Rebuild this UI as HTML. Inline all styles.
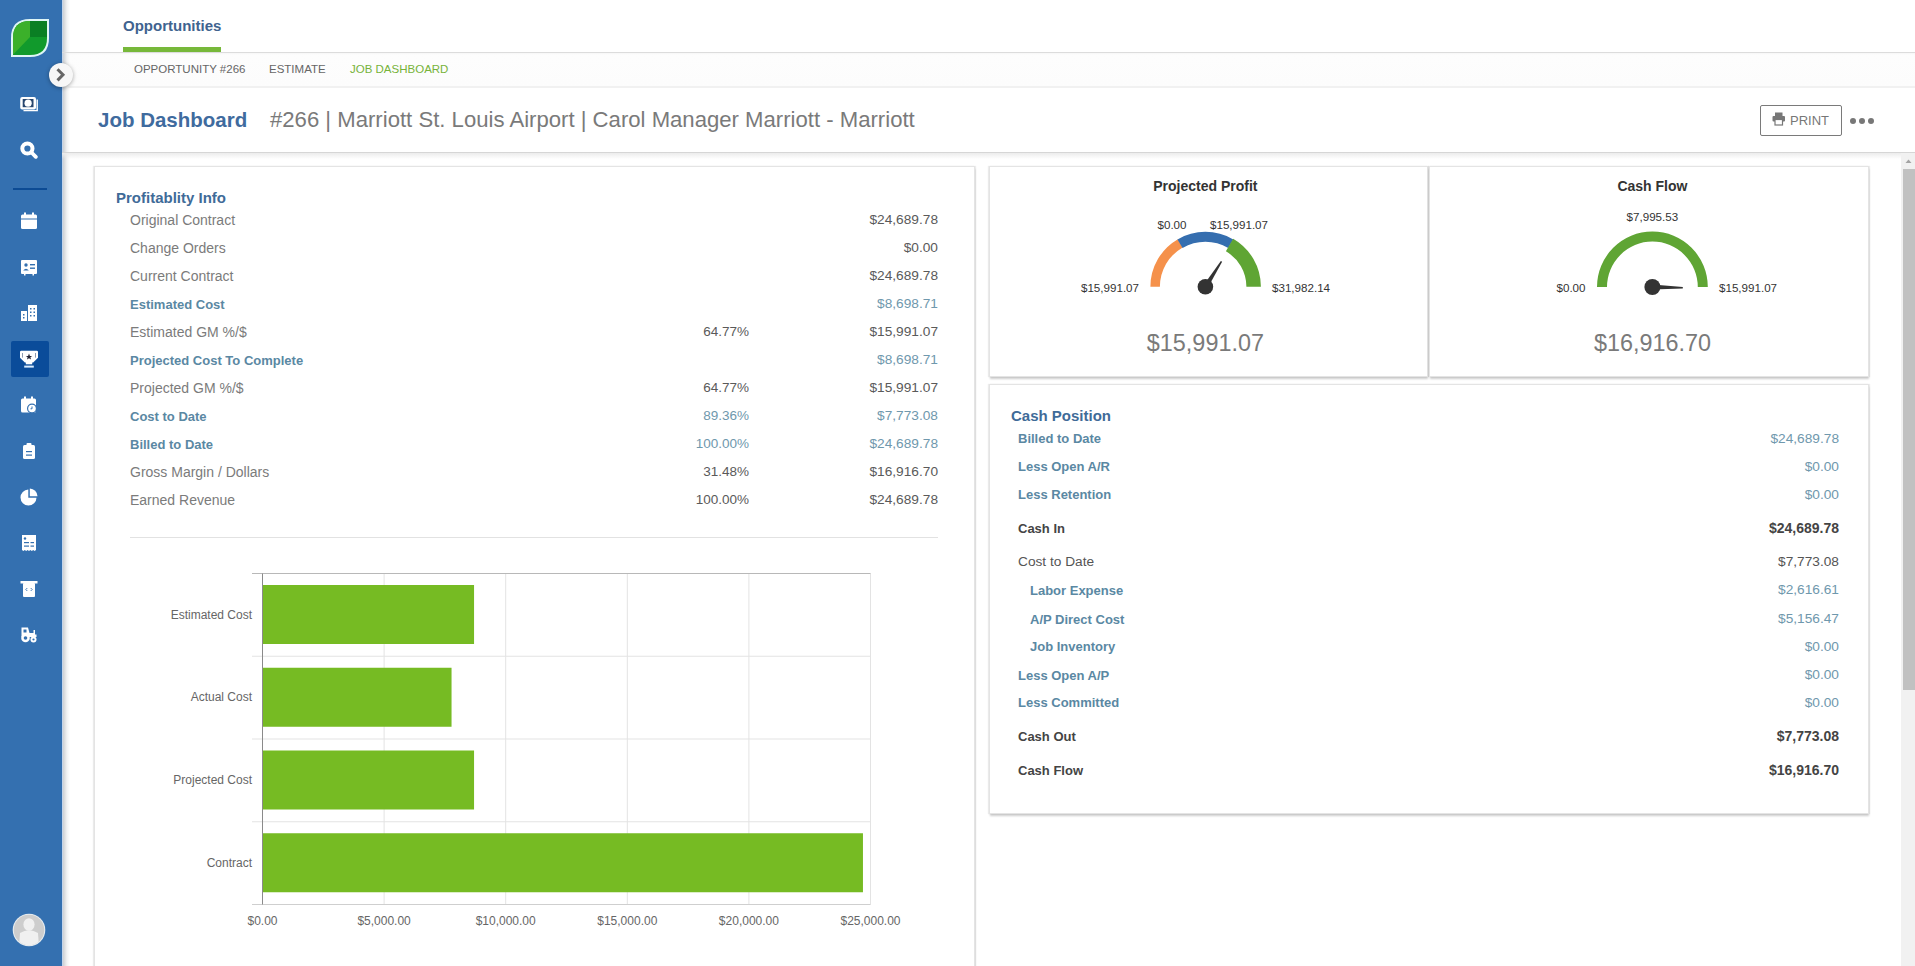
<!DOCTYPE html><html><head><meta charset="utf-8"><style>
html,body{margin:0;padding:0;width:1915px;height:966px;overflow:hidden;background:#fff;position:relative;font-family:"Liberation Sans",sans-serif;}
.t{position:absolute;line-height:1;white-space:pre;}
.a{position:absolute;}
</style></head><body>
<div class="a" style="left:62px;top:53px;width:1853px;height:33px;background:linear-gradient(#f6f6f6 0,#fdfdfd 2px,#fcfcfc 100%);"></div>
<div class="a" style="left:62px;top:86px;width:1853px;height:2px;background:#f1f1f1;"></div>
<div class="a" style="left:0;top:0;width:62px;height:966px;background:#3470b0;"></div>
<div class="a" style="left:62px;top:0;width:8px;height:966px;background:linear-gradient(to right,#c3d4ea 0,#c3d4ea 1px,#cdd0d3 1px,#dfe1e3 3px,#f2f3f3 5px,rgba(255,255,255,0) 8px);"></div>
<svg class="a" style="left:10px;top:18px" width="40" height="40" viewBox="0 0 40 40">
<path d="M39 1 L39 20 Q39 39 20 39 L1 39 L1 20 Q1 1 20 1 Z" fill="#dff6f6"/>
<clipPath id="lf"><path d="M37 3 L37 20 Q37 37 20 37 L3 37 L3 20 Q3 3 20 3 Z"/></clipPath>
<g clip-path="url(#lf)">
<rect x="0" y="0" width="40" height="40" fill="#119a2c"/>
<path d="M0 0 L20 0 L20 19 L0 40 Z" fill="#3bb02a"/>
<rect x="20" y="0" width="20" height="19" fill="#0a7f24"/>
</g></svg>
<div class="a" style="left:49px;top:63px;width:24px;height:24px;border-radius:50%;background:#f7f7f7;box-shadow:0 1px 4px rgba(0,0,0,.35);"></div>
<svg class="a" style="left:49px;top:63px" width="24" height="24" viewBox="0 0 24 24"><path d="M8.5 6.2 L14 11.8 L8.5 17.4" fill="none" stroke="#666" stroke-width="3" stroke-linecap="butt" stroke-linejoin="miter"/></svg>
<svg class="a" style="left:19.0px;top:94.0px" width="20" height="20" viewBox="0 0 20 20"><rect x="1.2" y="3" width="15.8" height="12.4" rx="2" fill="#fff"/>
<rect x="3.7" y="5" width="10.8" height="8.2" fill="#27466e"/>
<circle cx="9.1" cy="9.2" r="3.6" fill="#fff"/>
<path d="M18.2 5.5 V16.6 H4.5" fill="none" stroke="#fff" stroke-width="1.4"/></svg>
<svg class="a" style="left:18.0px;top:139.0px" width="20" height="20" viewBox="0 0 20 20"><circle cx="9.4" cy="9.5" r="5.1" fill="none" stroke="#fff" stroke-width="4"/>
<path d="M13.5 13.5 L17.8 17.8" stroke="#fff" stroke-width="3.8" stroke-linecap="round"/></svg>
<div class="a" style="left:13px;top:188px;width:34px;height:2px;background:#0c4b94;"></div>
<svg class="a" style="left:19.0px;top:211.0px" width="20" height="20" viewBox="0 0 20 20"><rect x="2" y="3.5" width="16" height="14.5" rx="1.5" fill="#fff"/>
<rect x="2" y="7.5" width="16" height="1" fill="#3470b0"/>
<rect x="5" y="1.5" width="2" height="3" fill="#fff"/><rect x="13" y="1.5" width="2" height="3" fill="#fff"/></svg>
<svg class="a" style="left:19.0px;top:257.0px" width="20" height="20" viewBox="0 0 20 20"><rect x="2" y="3" width="16" height="14" rx="1" fill="#fff"/>
<circle cx="7" cy="8" r="1.7" fill="#3470b0"/><path d="M4.2 13.5 Q7 9.8 9.8 13.5 Z" fill="#3470b0"/>
<rect x="11" y="7" width="5" height="1.4" fill="#3470b0"/><rect x="11" y="10.5" width="5" height="1.4" fill="#3470b0"/>
<rect x="5" y="17" width="1.5" height="1.5" fill="#fff"/><rect x="13.5" y="17" width="1.5" height="1.5" fill="#fff"/></svg>
<svg class="a" style="left:19.0px;top:303.0px" width="20" height="20" viewBox="0 0 20 20"><rect x="9" y="2" width="9" height="16" fill="#fff"/><rect x="2" y="8" width="6" height="10" fill="#fff"/>
<g fill="#3470b0"><rect x="11" y="5" width="1.5" height="1.5"/><rect x="14.5" y="5" width="1.5" height="1.5"/>
<rect x="11" y="8.5" width="1.5" height="1.5"/><rect x="14.5" y="8.5" width="1.5" height="1.5"/>
<rect x="11" y="12" width="1.5" height="1.5"/><rect x="14.5" y="12" width="1.5" height="1.5"/>
<rect x="4" y="11" width="1.5" height="1.5"/><rect x="4" y="14" width="1.5" height="1.5"/></g></svg>
<div class="a" style="left:11px;top:341px;width:38px;height:36px;border-radius:2px;background:#0a4c9a;"></div>
<svg class="a" style="left:19.0px;top:349.0px" width="20" height="20" viewBox="0 0 20 20"><path d="M1 3 Q1 1.8 2.2 1.8 H17.8 Q19 1.8 19 3 V8.8 L14.2 13.6 H5.8 L1 8.8 Z" fill="#fff"/>
<rect x="6.8" y="13" width="6.4" height="2.3" fill="#fff"/><rect x="5.2" y="16.6" width="9.6" height="2" fill="#d8ecff"/>
<rect x="3" y="4" width="0.9" height="4.6" fill="#8090a8"/><rect x="16.1" y="4" width="0.9" height="4.6" fill="#8090a8"/>
<path d="M10 4.6 L10.9 6.9 L13.2 6.9 L11.4 8.3 L12 10.5 L10 9.2 L8 10.5 L8.6 8.3 L6.8 6.9 L9.1 6.9 Z" fill="#223"/></svg>
<svg class="a" style="left:19.0px;top:395.0px" width="20" height="20" viewBox="0 0 20 20"><rect x="2" y="3.5" width="15" height="14" rx="1.5" fill="#fff"/>
<rect x="5" y="1.5" width="2" height="3" fill="#fff"/><rect x="12" y="1.5" width="2" height="3" fill="#fff"/>
<circle cx="13" cy="13.5" r="5" fill="#3470b0"/><circle cx="13" cy="13.5" r="3.8" fill="#fff"/>
<path d="M13 11.5 V13.8 H11.5" fill="none" stroke="#3470b0" stroke-width="1"/></svg>
<svg class="a" style="left:19.0px;top:441.0px" width="20" height="20" viewBox="0 0 20 20"><rect x="4" y="4" width="12" height="14" rx="1.5" fill="#fff"/>
<rect x="7.5" y="2" width="5" height="3.5" rx="1" fill="#fff"/>
<rect x="7" y="10" width="6" height="1.2" fill="#3470b0"/><rect x="7" y="13.5" width="6" height="1.2" fill="#3470b0"/></svg>
<svg class="a" style="left:19.0px;top:487.0px" width="20" height="20" viewBox="0 0 20 20"><path d="M9.3 2.5 A8 8 0 1 0 17.5 10.7 H9.3 Z" fill="#fff"/>
<path d="M10.8 1.5 A8 8 0 0 1 18.5 9.2 H10.8 Z" fill="#fff"/></svg>
<svg class="a" style="left:19.0px;top:533.0px" width="20" height="20" viewBox="0 0 20 20"><path d="M3 2 H17 V17 L15.6 18 L14.2 17 L12.8 18 L11.4 17 L10 18 L8.6 17 L7.2 18 L5.8 17 L4.4 18 L3 17 Z" fill="#fff"/>
<circle cx="6" cy="5.5" r="1.2" fill="#3470b0"/>
<rect x="5" y="9" width="5" height="1.2" fill="#3470b0"/><rect x="11.5" y="9" width="3.5" height="1.2" fill="#3470b0"/>
<rect x="5" y="12.5" width="5" height="1.2" fill="#3470b0"/><rect x="11.5" y="12.5" width="3.5" height="1.2" fill="#3470b0"/></svg>
<svg class="a" style="left:19.0px;top:579.0px" width="20" height="20" viewBox="0 0 20 20"><rect x="1.5" y="2" width="17" height="2.5" fill="#fff"/>
<rect x="4" y="4" width="12" height="14" rx="1" fill="#fff"/>
<path d="M8.3 9 L6.8 10.5 L8.3 12 M11.7 9 L13.2 10.5 L11.7 12" fill="none" stroke="#3470b0" stroke-width="0.9"/></svg>
<svg class="a" style="left:19.0px;top:625.0px" width="20" height="20" viewBox="0 0 20 20"><path d="M2.5 2.5 H9 L10.5 8 H14.5 V5 H16 V9.5 H17.5 V12 H2.5 Z" fill="#fff"/>
<rect x="4.5" y="4.5" width="3" height="3" fill="#3470b0"/>
<circle cx="6.5" cy="13" r="4.3" fill="#fff"/><circle cx="6.5" cy="13" r="1.8" fill="#3470b0"/>
<circle cx="14.5" cy="14.5" r="3" fill="#fff"/><circle cx="14.5" cy="14.5" r="1.1" fill="#3470b0"/></svg>
<svg class="a" style="left:12px;top:913px" width="34" height="34" viewBox="0 0 34 34">
<circle cx="17" cy="17" r="16.3" fill="#e6ecf0"/>
<circle cx="17" cy="17" r="15.2" fill="#cdcdcd"/>
<clipPath id="av"><circle cx="17" cy="17" r="15.2"/></clipPath>
<g clip-path="url(#av)" fill="#f0f0f0"><ellipse cx="17" cy="11.5" rx="5.6" ry="6.3"/><path d="M8 20 Q17 14.5 26 20 L27 34 L7 34 Z"/></g>
</svg>
<div class="t" style="left:123px;top:17.90px;font-size:15px;font-weight:700;color:#40638f;">Opportunities</div>
<div class="a" style="left:123px;top:47px;width:98px;height:5px;background:#77b83a;"></div>
<div class="a" style="left:62px;top:52px;width:1853px;height:1px;background:#dcdcdc;"></div>
<div class="t" style="left:134px;top:63.57px;font-size:11.5px;font-weight:400;color:#666;">OPPORTUNITY #266</div>
<div class="t" style="left:269px;top:63.57px;font-size:11.5px;font-weight:400;color:#666;">ESTIMATE</div>
<div class="t" style="left:350px;top:63.57px;font-size:11.5px;font-weight:400;color:#77b33a;">JOB DASHBOARD</div>
<div class="t" style="left:98px;top:109.85px;font-size:20.5px;font-weight:700;color:#3f6b9e;">Job Dashboard</div>
<div class="t" style="left:270px;top:108.56px;font-size:22.14px;font-weight:400;color:#7a7a7a;">#266 | Marriott St. Louis Airport | Carol Manager Marriott - Marriott</div>
<div class="a" style="left:1760px;top:105px;width:80px;height:29px;border:1px solid #7a7a7a;border-radius:2px;"></div>
<svg class="a" style="left:1772px;top:112px" width="14" height="14" viewBox="0 0 14 14">
<rect x="3" y="0.5" width="7.5" height="4" fill="#777"/><rect x="0.5" y="4" width="12.5" height="5.5" rx="1" fill="#777"/>
<rect x="3" y="7.5" width="7.5" height="5.5" fill="#fff" stroke="#777" stroke-width="1.2"/></svg>
<div class="t" style="left:1790px;top:114.00px;font-size:13px;font-weight:400;color:#777;">PRINT</div>
<div class="a" style="left:1850px;top:117.5px;width:6px;height:6px;border-radius:50%;background:#777;"></div>
<div class="a" style="left:1859px;top:117.5px;width:6px;height:6px;border-radius:50%;background:#777;"></div>
<div class="a" style="left:1868px;top:117.5px;width:6px;height:6px;border-radius:50%;background:#777;"></div>
<div class="a" style="left:62px;top:152px;width:1853px;height:1px;background:#d6d6d6;"></div>
<div class="a" style="left:62px;top:153px;width:1839px;height:6px;background:linear-gradient(#ececec,rgba(255,255,255,0));"></div>
<div class="a" style="left:1901px;top:153px;width:14px;height:813px;background:#f1f1f1;"></div>
<div class="a" style="left:1903px;top:169px;width:12px;height:521px;background:#c1c1c1;"></div>
<svg class="a" style="left:1902px;top:156px" width="13" height="10" viewBox="0 0 13 10"><path d="M3.5 7 L6.5 3.5 L9.5 7 Z" fill="#a3a3a3"/></svg>
<div class="a" style="left:94px;top:166px;width:881px;height:832px;background:#fff;border:1px solid #e4e4e4;box-sizing:border-box;box-shadow:0 2px 2px -0.5px rgba(0,0,0,.2),1px 0 1px rgba(0,0,0,.07),-1px 0 1px rgba(0,0,0,.07);"></div>
<div class="a" style="left:989px;top:166px;width:439px;height:211px;background:#fff;border:1px solid #e4e4e4;box-sizing:border-box;box-shadow:0 2px 2px -0.5px rgba(0,0,0,.2),1px 0 1px rgba(0,0,0,.07),-1px 0 1px rgba(0,0,0,.07);"></div>
<div class="a" style="left:1429px;top:166px;width:440px;height:211px;background:#fff;border:1px solid #e4e4e4;box-sizing:border-box;box-shadow:0 2px 2px -0.5px rgba(0,0,0,.2),1px 0 1px rgba(0,0,0,.07),-1px 0 1px rgba(0,0,0,.07);"></div>
<div class="a" style="left:989px;top:384px;width:880px;height:430px;background:#fff;border:1px solid #e4e4e4;box-sizing:border-box;box-shadow:0 2px 2px -0.5px rgba(0,0,0,.2),1px 0 1px rgba(0,0,0,.07),-1px 0 1px rgba(0,0,0,.07);"></div>
<div class="t" style="left:116px;top:190.10px;font-size:15px;font-weight:700;color:#3f6b98;">Profitablity Info</div>
<div class="t" style="left:130px;top:212.85px;font-size:14px;font-weight:400;color:#7b7b7b;">Original Contract</div>
<div class="t" style="left:-62px;width:1000px;text-align:right;top:213.10px;font-size:13.7px;font-weight:400;color:#5a5a5a;">$24,689.78</div>
<div class="t" style="left:130px;top:240.85px;font-size:14px;font-weight:400;color:#7b7b7b;">Change Orders</div>
<div class="t" style="left:-62px;width:1000px;text-align:right;top:241.10px;font-size:13.7px;font-weight:400;color:#5a5a5a;">$0.00</div>
<div class="t" style="left:130px;top:268.85px;font-size:14px;font-weight:400;color:#7b7b7b;">Current Contract</div>
<div class="t" style="left:-62px;width:1000px;text-align:right;top:269.10px;font-size:13.7px;font-weight:400;color:#5a5a5a;">$24,689.78</div>
<div class="t" style="left:130px;top:297.70px;font-size:13px;font-weight:700;color:#5a88a3;">Estimated Cost</div>
<div class="t" style="left:-62px;width:1000px;text-align:right;top:297.10px;font-size:13.7px;font-weight:400;color:#6f98ad;">$8,698.71</div>
<div class="t" style="left:130px;top:324.85px;font-size:14px;font-weight:400;color:#7b7b7b;">Estimated GM %/$</div>
<div class="t" style="left:-251px;width:1000px;text-align:right;top:325.27px;font-size:13.5px;font-weight:400;color:#5a5a5a;">64.77%</div>
<div class="t" style="left:-62px;width:1000px;text-align:right;top:325.10px;font-size:13.7px;font-weight:400;color:#5a5a5a;">$15,991.07</div>
<div class="t" style="left:130px;top:353.70px;font-size:13px;font-weight:700;color:#5a88a3;">Projected Cost To Complete</div>
<div class="t" style="left:-62px;width:1000px;text-align:right;top:353.10px;font-size:13.7px;font-weight:400;color:#6f98ad;">$8,698.71</div>
<div class="t" style="left:130px;top:380.85px;font-size:14px;font-weight:400;color:#7b7b7b;">Projected GM %/$</div>
<div class="t" style="left:-251px;width:1000px;text-align:right;top:381.27px;font-size:13.5px;font-weight:400;color:#5a5a5a;">64.77%</div>
<div class="t" style="left:-62px;width:1000px;text-align:right;top:381.10px;font-size:13.7px;font-weight:400;color:#5a5a5a;">$15,991.07</div>
<div class="t" style="left:130px;top:409.70px;font-size:13px;font-weight:700;color:#5a88a3;">Cost to Date</div>
<div class="t" style="left:-251px;width:1000px;text-align:right;top:409.27px;font-size:13.5px;font-weight:400;color:#6f98ad;">89.36%</div>
<div class="t" style="left:-62px;width:1000px;text-align:right;top:409.10px;font-size:13.7px;font-weight:400;color:#6f98ad;">$7,773.08</div>
<div class="t" style="left:130px;top:437.70px;font-size:13px;font-weight:700;color:#5a88a3;">Billed to Date</div>
<div class="t" style="left:-251px;width:1000px;text-align:right;top:437.27px;font-size:13.5px;font-weight:400;color:#6f98ad;">100.00%</div>
<div class="t" style="left:-62px;width:1000px;text-align:right;top:437.10px;font-size:13.7px;font-weight:400;color:#6f98ad;">$24,689.78</div>
<div class="t" style="left:130px;top:464.85px;font-size:14px;font-weight:400;color:#7b7b7b;">Gross Margin / Dollars</div>
<div class="t" style="left:-251px;width:1000px;text-align:right;top:465.27px;font-size:13.5px;font-weight:400;color:#5a5a5a;">31.48%</div>
<div class="t" style="left:-62px;width:1000px;text-align:right;top:465.10px;font-size:13.7px;font-weight:400;color:#5a5a5a;">$16,916.70</div>
<div class="t" style="left:130px;top:492.85px;font-size:14px;font-weight:400;color:#7b7b7b;">Earned Revenue</div>
<div class="t" style="left:-251px;width:1000px;text-align:right;top:493.27px;font-size:13.5px;font-weight:400;color:#5a5a5a;">100.00%</div>
<div class="t" style="left:-62px;width:1000px;text-align:right;top:493.10px;font-size:13.7px;font-weight:400;color:#5a5a5a;">$24,689.78</div>
<div class="a" style="left:130px;top:537px;width:808px;height:1px;background:#e2e2e2;"></div>
<svg class="a" style="left:0;top:0" width="1915" height="966"><line x1="384.1" y1="573.5" x2="384.1" y2="904.5" stroke="#e3e3e3" stroke-width="1"/><line x1="505.7" y1="573.5" x2="505.7" y2="904.5" stroke="#e3e3e3" stroke-width="1"/><line x1="627.3" y1="573.5" x2="627.3" y2="904.5" stroke="#e3e3e3" stroke-width="1"/><line x1="748.9" y1="573.5" x2="748.9" y2="904.5" stroke="#e3e3e3" stroke-width="1"/><line x1="870.5" y1="573.5" x2="870.5" y2="904.5" stroke="#e3e3e3" stroke-width="1"/><line x1="252" y1="656.25" x2="870.5" y2="656.25" stroke="#e3e3e3" stroke-width="1"/><line x1="252" y1="739.0" x2="870.5" y2="739.0" stroke="#e3e3e3" stroke-width="1"/><line x1="252" y1="821.75" x2="870.5" y2="821.75" stroke="#e3e3e3" stroke-width="1"/><line x1="252" y1="573.5" x2="870.5" y2="573.5" stroke="#b8b8b8" stroke-width="1.2"/><line x1="252" y1="904.5" x2="870.5" y2="904.5" stroke="#cfcfcf" stroke-width="1"/><rect x="262.5" y="585.0" width="211.5526272" height="59" fill="#76bb23"/><rect x="262.5" y="667.75" width="189.04130560000002" height="59" fill="#76bb23"/><rect x="262.5" y="750.5" width="211.5526272" height="59" fill="#76bb23"/><rect x="262.5" y="833.25" width="600.4554496" height="59" fill="#76bb23"/><line x1="262.5" y1="573.5" x2="262.5" y2="904.5" stroke="#8a8a8a" stroke-width="1"/></svg>
<div class="t" style="left:-748px;width:1000px;text-align:right;top:608.72px;font-size:12px;font-weight:400;color:#666;">Estimated Cost</div>
<div class="t" style="left:-748px;width:1000px;text-align:right;top:691.47px;font-size:12px;font-weight:400;color:#666;">Actual Cost</div>
<div class="t" style="left:-748px;width:1000px;text-align:right;top:774.22px;font-size:12px;font-weight:400;color:#666;">Projected Cost</div>
<div class="t" style="left:-748px;width:1000px;text-align:right;top:856.97px;font-size:12px;font-weight:400;color:#666;">Contract</div>
<div class="t" style="left:-237.5px;width:1000px;text-align:center;top:914.54px;font-size:12px;font-weight:400;color:#666;">$0.00</div>
<div class="t" style="left:-115.89999999999998px;width:1000px;text-align:center;top:914.54px;font-size:12px;font-weight:400;color:#666;">$5,000.00</div>
<div class="t" style="left:5.699999999999989px;width:1000px;text-align:center;top:914.54px;font-size:12px;font-weight:400;color:#666;">$10,000.00</div>
<div class="t" style="left:127.29999999999995px;width:1000px;text-align:center;top:914.54px;font-size:12px;font-weight:400;color:#666;">$15,000.00</div>
<div class="t" style="left:248.89999999999998px;width:1000px;text-align:center;top:914.54px;font-size:12px;font-weight:400;color:#666;">$20,000.00</div>
<div class="t" style="left:370.5px;width:1000px;text-align:center;top:914.54px;font-size:12px;font-weight:400;color:#666;">$25,000.00</div>
<svg class="a" style="left:0;top:0" width="1915" height="966"><path d="M1150.40 286.80 A55 55 0 0 1 1177.90 239.17 L1182.65 247.40 A45.5 45.5 0 0 0 1159.90 286.80 Z" fill="#f5914b"/><path d="M1177.49 239.41 A55 55 0 0 1 1233.31 239.41 L1228.24 248.03 A45 45 0 0 0 1182.56 248.03 Z" fill="#356eaf"/><path d="M1233.15 238.74 A55.5 55.5 0 0 1 1260.90 286.80 L1246.40 286.80 A41 41 0 0 0 1225.90 251.29 Z" fill="#5fa534"/><path d="M1207.51 288.14 L1222.13 261.80 L1220.87 261.00 L1203.29 285.46 Z" fill="#333"/><circle cx="1205.4" cy="286.8" r="7.8" fill="#333"/><path d="M1597.00 287.00 A55.4 55.4 0 0 1 1707.80 287.00 L1697.80 287.00 A45.4 45.4 0 0 0 1607.00 287.00 Z" fill="#5fa534"/><path d="M1652.33 289.50 L1682.78 288.55 L1682.82 287.05 L1652.47 284.50 Z" fill="#333"/><circle cx="1652.4" cy="287" r="8" fill="#333"/></svg>
<div class="t" style="left:705.4000000000001px;width:1000px;text-align:center;top:179.15px;font-size:14px;font-weight:700;color:#333;">Projected Profit</div>
<div class="t" style="left:672px;width:1000px;text-align:center;top:218.88px;font-size:11.6px;font-weight:400;color:#333;">$0.00</div>
<div class="t" style="left:739px;width:1000px;text-align:center;top:218.88px;font-size:11.6px;font-weight:400;color:#333;">$15,991.07</div>
<div class="t" style="left:139px;width:1000px;text-align:right;top:281.88px;font-size:11.6px;font-weight:400;color:#333;">$15,991.07</div>
<div class="t" style="left:1272px;top:281.88px;font-size:11.6px;font-weight:400;color:#333;">$31,982.14</div>
<div class="t" style="left:705.4000000000001px;width:1000px;text-align:center;top:332.09px;font-size:23.4px;font-weight:400;color:#7a7a7a;">$15,991.07</div>
<div class="t" style="left:1152.4px;width:1000px;text-align:center;top:179.15px;font-size:14px;font-weight:700;color:#333;">Cash Flow</div>
<div class="t" style="left:1152.4px;width:1000px;text-align:center;top:211.28px;font-size:11.6px;font-weight:400;color:#333;">$7,995.53</div>
<div class="t" style="left:585.5px;width:1000px;text-align:right;top:281.88px;font-size:11.6px;font-weight:400;color:#333;">$0.00</div>
<div class="t" style="left:1719px;top:281.88px;font-size:11.6px;font-weight:400;color:#333;">$15,991.07</div>
<div class="t" style="left:1152.6px;width:1000px;text-align:center;top:332.09px;font-size:23.4px;font-weight:400;color:#7a7a7a;">$16,916.70</div>
<div class="t" style="left:1011px;top:408.30px;font-size:15px;font-weight:700;color:#3f6b98;">Cash Position</div>
<div class="t" style="left:1018px;top:432.30px;font-size:13px;font-weight:700;color:#5a88a3;">Billed to Date</div>
<div class="t" style="left:839px;width:1000px;text-align:right;top:431.70px;font-size:13.7px;font-weight:400;color:#6f98ad;">$24,689.78</div>
<div class="t" style="left:1018px;top:460.40px;font-size:13px;font-weight:700;color:#5a88a3;">Less Open A/R</div>
<div class="t" style="left:839px;width:1000px;text-align:right;top:459.80px;font-size:13.7px;font-weight:400;color:#6f98ad;">$0.00</div>
<div class="t" style="left:1018px;top:488.20px;font-size:13px;font-weight:700;color:#5a88a3;">Less Retention</div>
<div class="t" style="left:839px;width:1000px;text-align:right;top:487.60px;font-size:13.7px;font-weight:400;color:#6f98ad;">$0.00</div>
<div class="t" style="left:1018px;top:522.30px;font-size:13px;font-weight:700;color:#444;">Cash In</div>
<div class="t" style="left:839px;width:1000px;text-align:right;top:521.45px;font-size:14px;font-weight:700;color:#444;">$24,689.78</div>
<div class="t" style="left:1018px;top:555.20px;font-size:13.7px;font-weight:400;color:#555;">Cost to Date</div>
<div class="t" style="left:839px;width:1000px;text-align:right;top:555.20px;font-size:13.7px;font-weight:400;color:#555;">$7,773.08</div>
<div class="t" style="left:1030px;top:583.90px;font-size:13px;font-weight:700;color:#5a88a3;">Labor Expense</div>
<div class="t" style="left:839px;width:1000px;text-align:right;top:583.30px;font-size:13.7px;font-weight:400;color:#6f98ad;">$2,616.61</div>
<div class="t" style="left:1030px;top:612.60px;font-size:13px;font-weight:700;color:#5a88a3;">A/P Direct Cost</div>
<div class="t" style="left:839px;width:1000px;text-align:right;top:612.00px;font-size:13.7px;font-weight:400;color:#6f98ad;">$5,156.47</div>
<div class="t" style="left:1030px;top:640.40px;font-size:13px;font-weight:700;color:#5a88a3;">Job Inventory</div>
<div class="t" style="left:839px;width:1000px;text-align:right;top:639.80px;font-size:13.7px;font-weight:400;color:#6f98ad;">$0.00</div>
<div class="t" style="left:1018px;top:668.50px;font-size:13px;font-weight:700;color:#5a88a3;">Less Open A/P</div>
<div class="t" style="left:839px;width:1000px;text-align:right;top:667.90px;font-size:13.7px;font-weight:400;color:#6f98ad;">$0.00</div>
<div class="t" style="left:1018px;top:696.30px;font-size:13px;font-weight:700;color:#5a88a3;">Less Committed</div>
<div class="t" style="left:839px;width:1000px;text-align:right;top:695.70px;font-size:13.7px;font-weight:400;color:#6f98ad;">$0.00</div>
<div class="t" style="left:1018px;top:730.10px;font-size:13px;font-weight:700;color:#444;">Cash Out</div>
<div class="t" style="left:839px;width:1000px;text-align:right;top:729.25px;font-size:14px;font-weight:700;color:#444;">$7,773.08</div>
<div class="t" style="left:1018px;top:764.10px;font-size:13px;font-weight:700;color:#444;">Cash Flow</div>
<div class="t" style="left:839px;width:1000px;text-align:right;top:763.25px;font-size:14px;font-weight:700;color:#444;">$16,916.70</div>
</body></html>
